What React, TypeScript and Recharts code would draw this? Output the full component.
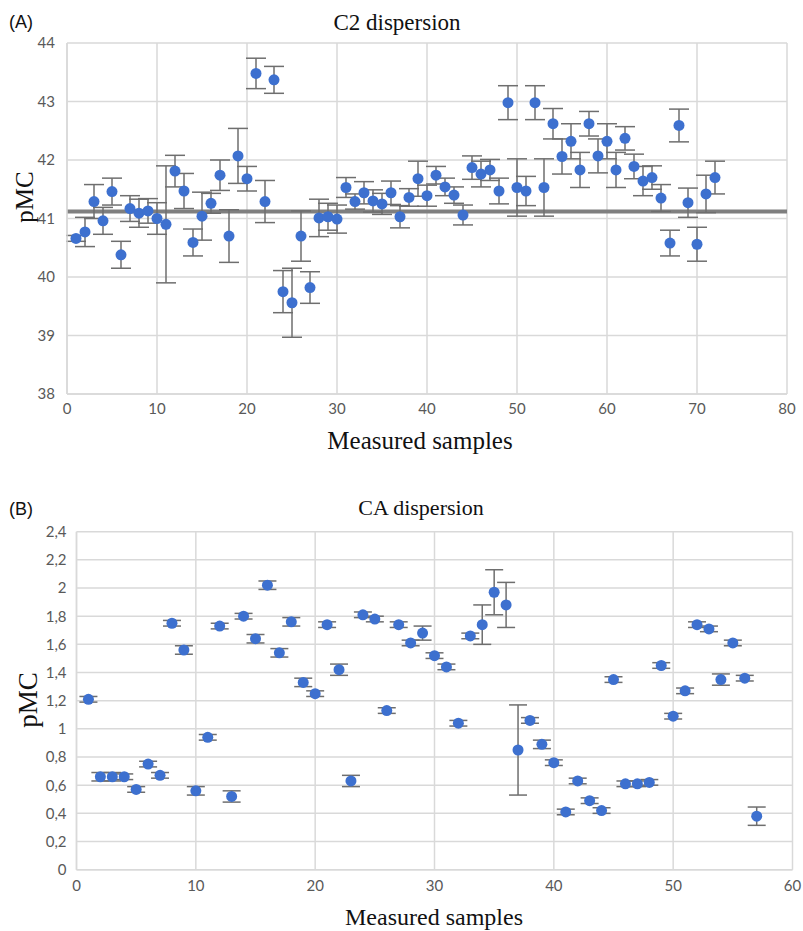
import {
  ScatterChart,
  Scatter,
  XAxis,
  YAxis,
  CartesianGrid,
  ErrorBar,
  ReferenceLine,
} from "recharts";

// (A) C2 dispersion, samples 1..72
const c2Values = [
  40.66, 40.77, 41.29, 40.96, 41.46, 40.38, 41.17, 41.09, 41.13, 41.0,
  40.9, 41.81, 41.47, 40.59, 41.04, 41.26, 41.74, 40.7, 42.07, 41.68,
  43.48, 41.29, 43.37, 39.75, 39.56, 40.7, 39.82, 41.01, 41.03, 40.99,
  41.53, 41.29, 41.44, 41.3, 41.25, 41.44, 41.03, 41.36, 41.68, 41.39,
  41.74, 41.54, 41.4, 41.06, 41.87, 41.76, 41.83, 41.47, 42.98, 41.53,
  41.47, 42.98, 41.53, 42.62, 42.06, 42.32, 41.83, 42.62, 42.07, 42.32,
  41.83, 42.37, 41.89, 41.64, 41.7, 41.35, 40.58, 42.59, 41.27, 40.56,
  41.42, 41.7,
];
const c2Errors = [
  0.05, 0.25, 0.29, 0.23, 0.23, 0.23, 0.22, 0.24, 0.21, 0.27,
  1.0, 0.27, 0.3, 0.23, 0.41, 0.17, 0.26, 0.45, 0.47, 0.21,
  0.26, 0.36, 0.23, 0.36, 0.59, 0.43, 0.27, 0.32, 0.23, 0.24,
  0.17, 0.13, 0.19, 0.19, 0.18, 0.2, 0.19, 0.15, 0.3, 0.18,
  0.15, 0.15, 0.14, 0.17, 0.2, 0.22, 0.18, 0.22, 0.29, 0.49,
  0.25, 0.29, 0.49, 0.26, 0.3, 0.3, 0.3, 0.21, 0.29, 0.3,
  0.3, 0.2, 0.21, 0.25, 0.2, 0.23, 0.22, 0.28, 0.25, 0.29,
  0.32, 0.28,
];
const c2Mean = 41.12;
const c2XTicks = [0, 10, 20, 30, 40, 50, 60, 70, 80];
const c2YTicks = [38, 39, 40, 41, 42, 43, 44];

// (B) CA dispersion, samples 1..57
const caValues = [
  1.21, 0.66, 0.66, 0.66, 0.57, 0.75, 0.67, 1.75, 1.56, 0.56,
  0.94, 1.73, 0.52, 1.8, 1.64, 2.02, 1.54, 1.76, 1.33, 1.25,
  1.74, 1.42, 0.63, 1.81, 1.78, 1.13, 1.74, 1.61, 1.68, 1.52,
  1.44, 1.04, 1.66, 1.74, 1.97, 1.88, 0.85, 1.06, 0.89, 0.76,
  0.41, 0.63, 0.49, 0.42, 1.35, 0.61, 0.61, 0.62, 1.45, 1.09,
  1.27, 1.74, 1.71, 1.35, 1.61, 1.36, 0.38,
];
const caErrors = [
  0.02, 0.03, 0.03, 0.02, 0.02, 0.02, 0.02, 0.02, 0.03, 0.03,
  0.02, 0.02, 0.04, 0.02, 0.03, 0.03, 0.03, 0.03, 0.03, 0.02,
  0.02, 0.04, 0.04, 0.02, 0.02, 0.02, 0.02, 0.02, 0.05, 0.02,
  0.02, 0.02, 0.02, 0.14, 0.16, 0.16, 0.32, 0.02, 0.03, 0.02,
  0.02, 0.02, 0.02, 0.02, 0.02, 0.02, 0.02, 0.02, 0.02, 0.02,
  0.02, 0.02, 0.02, 0.04, 0.02, 0.02, 0.065,
];
const caXTicks = [0, 10, 20, 30, 40, 50, 60];
const caYTicks = [0, 0.2, 0.4, 0.6, 0.8, 1, 1.2, 1.4, 1.6, 1.8, 2, 2.2, 2.4];

const c2Data = c2Values.map((v, i) => ({ sample: i + 1, pmc: v, err: c2Errors[i] }));
const caData = caValues.map((v, i) => ({ sample: i + 1, pmc: v, err: caErrors[i] }));

const BLUE = "#3d70cf";
const GRID = "#d9d9d9";
const tickStyle = { fontSize: 15, fill: "#595959", fontFamily: "Lato" };
const serif = "'Liberation Serif', 'Times New Roman', serif";

const dot = (p: any) => <circle cx={p.cx} cy={p.cy} r={5.5} fill={BLUE} />;
const commaNum = (v: number) => String(Number(v.toFixed(1))).replace(".", ",");

function Text({ x, y, size, children, family = serif, rotate = false }: any) {
  return (
    <div
      style={{
        position: "absolute",
        left: x,
        top: y,
        transform: `translate(-50%, -50%)${rotate ? " rotate(-90deg)" : ""}`,
        fontFamily: family,
        fontSize: size,
        lineHeight: 1,
        whiteSpace: "nowrap",
        color: "#111",
      }}
    >
      {children}
    </div>
  );
}

export default function App() {
  return (
    <div style={{ position: "absolute", left: 0, top: 0, width: 803, height: 931, background: "#fff" }}>
      <div style={{ position: "absolute", left: 0, top: 0 }}>
        <ScatterChart width={803} height={460} margin={{ top: 43, right: 16, bottom: 36, left: 0 }}>
          <CartesianGrid stroke={GRID} strokeWidth={1.5} />
          <XAxis
            type="number"
            dataKey="sample"
            domain={[0, 80]}
            ticks={c2XTicks}
            height={30}
            tick={tickStyle}
            tickLine={false}
            tickMargin={3}
            axisLine={{ stroke: GRID, strokeWidth: 1.5 }}
          />
          <YAxis
            type="number"
            dataKey="pmc"
            domain={[38, 44]}
            ticks={c2YTicks}
            width={67}
            tick={tickStyle}
            tickLine={false}
            tickMargin={6}
            axisLine={{ stroke: GRID, strokeWidth: 1.5 }}
          />
          <ReferenceLine y={c2Mean} stroke="#7f7f7f" strokeWidth={4} />
          <Scatter data={c2Data} shape={dot} isAnimationActive={false}>
            <ErrorBar dataKey="err" direction="y" width={10} stroke="#6e6e6e" strokeWidth={1.5} />
          </Scatter>
        </ScatterChart>
      </div>

      <div style={{ position: "absolute", left: 0, top: 470 }}>
        <ScatterChart width={803} height={461} margin={{ top: 61.7, right: 10.5, bottom: 31.3, left: 0 }}>
          <CartesianGrid stroke={GRID} strokeWidth={1.5} />
          <XAxis
            type="number"
            dataKey="sample"
            domain={[0, 60]}
            ticks={caXTicks}
            height={30}
            tick={tickStyle}
            tickLine={false}
            tickMargin={5}
            axisLine={{ stroke: GRID, strokeWidth: 1.5 }}
          />
          <YAxis
            type="number"
            dataKey="pmc"
            domain={[0, 2.4]}
            ticks={caYTicks}
            width={76.5}
            tick={tickStyle}
            tickLine={false}
            tickMargin={4}
            tickFormatter={commaNum}
            axisLine={{ stroke: GRID, strokeWidth: 1.5 }}
          />
          <Scatter data={caData} shape={dot} isAnimationActive={false}>
            <ErrorBar dataKey="err" direction="y" width={9} stroke="#6e6e6e" strokeWidth={1.5} />
          </Scatter>
        </ScatterChart>
      </div>

      <Text x={21} y={22} size={18} family="'Liberation Sans', Arial, sans-serif">(A)</Text>
      <Text x={397} y={22} size={23}>C2 dispersion</Text>
      <Text x={24} y={197} size={25} rotate>pMC</Text>
      <Text x={420} y={440} size={25}>Measured samples</Text>

      <Text x={21} y={509} size={18} family="'Liberation Sans', Arial, sans-serif">(B)</Text>
      <Text x={421} y={508} size={22}>CA dispersion</Text>
      <Text x={28} y={700} size={27} rotate>pMC</Text>
      <Text x={434} y={917} size={24}>Measured samples</Text>
    </div>
  );
}
